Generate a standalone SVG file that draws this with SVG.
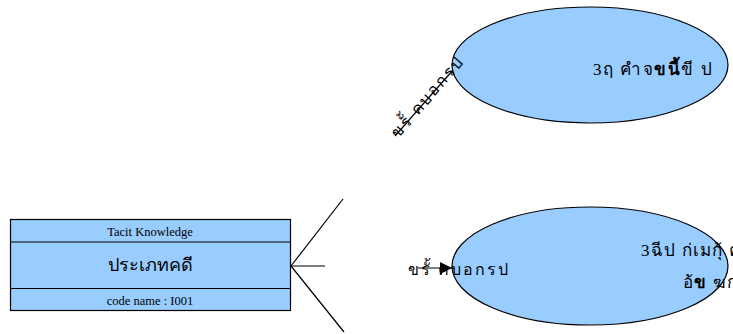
<svg xmlns="http://www.w3.org/2000/svg" width="733" height="334" viewBox="0 0 733 334">
<defs>
<marker id="arr" viewBox="0 0 10 10" refX="10" refY="5" markerWidth="13" markerHeight="12" markerUnits="userSpaceOnUse" orient="auto"><path d="M0,0 L10,5 L0,10 z" fill="#000"/></marker>
<style>
.shape{fill:#99ccff;stroke:#000;stroke-width:1.2}
.ln{stroke:#000;stroke-width:1.2;fill:none}
.t{font-family:"Liberation Serif","Noto Sans",serif;fill:#000}
</style>
</defs>
<rect width="733" height="334" fill="#fff"/>
<g id="box">
<rect class="shape" x="10.5" y="219.5" width="280" height="91"/>
<line class="ln" x1="10.5" y1="242" x2="290.5" y2="242"/>
<line class="ln" x1="10.5" y1="288.5" x2="290.5" y2="288.5"/>
<text class="t" font-size="12.5" x="150" y="236" text-anchor="middle">Tacit Knowledge</text>
<text class="t" font-size="18" x="150" y="271" text-anchor="middle">ประเภทคดี</text>
<text class="t" font-size="12.5" x="150" y="305" text-anchor="middle">code name : I001</text>
</g>
<g id="ellipse1">
<ellipse class="shape" cx="590" cy="65" rx="138" ry="58"/>
<text class="t" font-size="17" letter-spacing="1.5" x="593" y="75">3ฤ  คำจ<tspan font-weight="bold">ขนี้</tspan>ขี  ป</text>
</g>
<g id="ellipse2">
<ellipse class="shape" cx="590" cy="266" rx="138" ry="59"/>
<text class="t" font-size="17" letter-spacing="1.2" x="641" y="256">3ฉีป ก่เมกุ้ ค</text>
<text class="t" font-size="17" letter-spacing="1.2" x="683" y="288">อ้<tspan font-weight="bold">ข</tspan> ฆก</text>
</g>
<g id="connectors">
<line class="ln" x1="291" y1="266" x2="343" y2="199"/>
<line class="ln" x1="291" y1="266" x2="325" y2="266"/>
<line class="ln" x1="291" y1="266" x2="344" y2="332"/>
<line class="ln" x1="395" y1="136" x2="453" y2="70"/>
<line class="ln" x1="418" y1="268" x2="452" y2="268" marker-end="url(#arr)"/>
<text class="t" font-size="16" letter-spacing="2" transform="translate(398,139) rotate(-49)">ขรั้ คบอกรป</text>
<text class="t" font-size="16" letter-spacing="2" x="408" y="275">ขรั้ คบอกรป</text>
</g>
</svg>
